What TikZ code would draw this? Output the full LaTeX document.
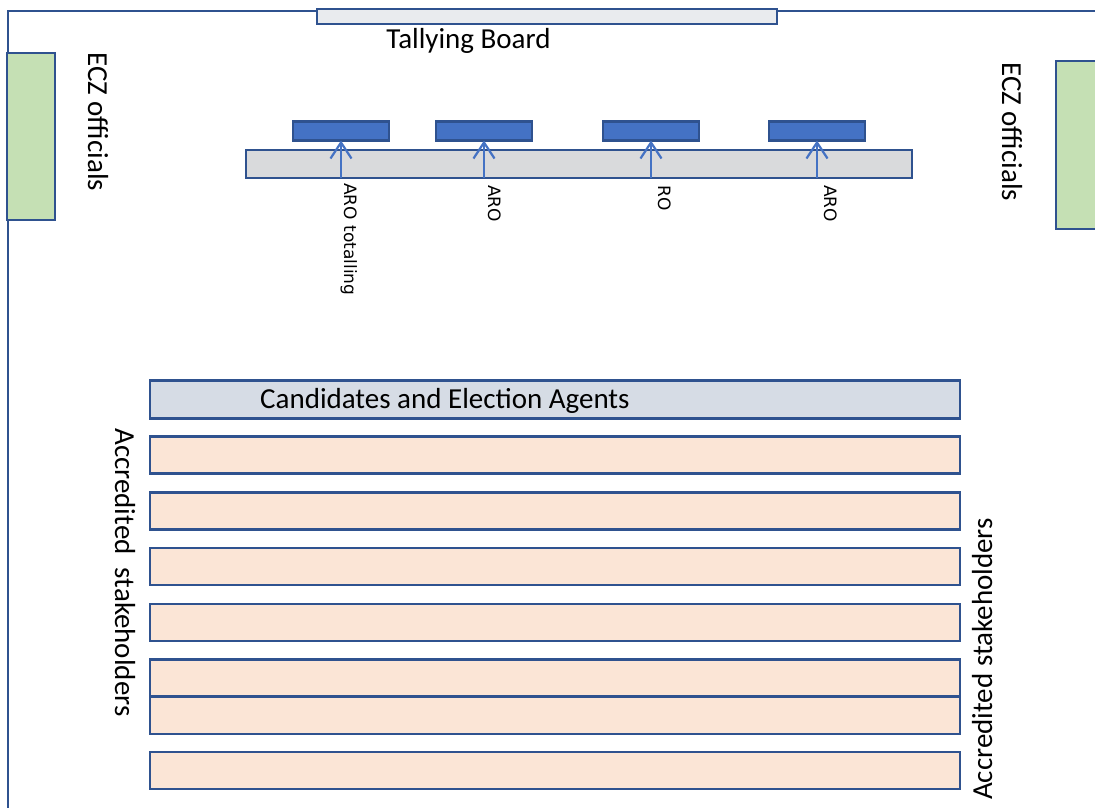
\documentclass[tikz,border=0pt]{standalone}
\usepackage{fontspec}
\setmainfont{Carlito}
\newfontfamily\lblfont{DejaVu Sans}
\usetikzlibrary{arrows.meta}
\definecolor{bord}{HTML}{2F528F}
\definecolor{arrowblue}{HTML}{4472C4}
\definecolor{greenfill}{HTML}{C5E0B4}
\definecolor{peach}{HTML}{FBE5D6}
\definecolor{candfill}{HTML}{D6DCE5}
\definecolor{barfill}{HTML}{D9DADC}
\definecolor{boardfill}{HTML}{E9EBEE}
\tikzset{
  box/.style={draw=bord, line width=2.2pt, inner sep=0pt, outer sep=0pt},
  bigtext/.style={font=\fontsize{29}{34}\selectfont, inner sep=0pt, text=black},
  smalltext/.style={font=\lblfont\fontsize{17}{20}\selectfont, inner sep=0pt, text=black},
  uparrow/.style={draw=arrowblue, line width=2.2pt, -{Straight Barb[length=16pt,width=21pt,line width=2.2pt]}},
}
\begin{document}
\begin{tikzpicture}[x=1pt,y=-1pt]
\useasboundingbox (0,0) rectangle (1095,807);
% room outline
\draw[bord, line width=2.2pt] (8,812) -- (8,11) -- (1100,11);
% tallying board
\node[box, fill=boardfill, minimum width=460pt, minimum height=15pt] (board) at (547,16.5) {};
\node[bigtext, anchor=base] (boardlbl) at (468.5,48) {Tallying Board};
% ECZ officials
\node[box, fill=greenfill, minimum width=48pt, minimum height=167pt] (eczl) at (31,136.5) {};
\node[box, fill=greenfill, minimum width=52pt, minimum height=168pt] (eczr) at (1082,145) {};
\node[bigtext, rotate=-90, anchor=base west] (eczllbl) at (88,52) {ECZ officials};
\node[bigtext, rotate=-90, anchor=base west] (eczrlbl) at (1002,62) {ECZ officials};
% counting table
\node[box, fill=barfill, minimum width=666pt, minimum height=28pt] (bar) at (579,164) {};
\foreach \n/\cx in {b1/341, b2/484, b3/651, b4/817}{
  \node[box, fill=arrowblue, minimum width=96pt, minimum height=19pt] (\n) at (\cx,131) {};
  \draw[uparrow] (\n.south |- bar.south) -- (\n.south);
}
\node[smalltext, rotate=-90, anchor=base west] (l1) at (344,183) {ARO totalling};
\node[smalltext, rotate=-90, anchor=base west] (l2) at (488,185) {ARO};
\node[smalltext, rotate=-90, anchor=base west] (l3) at (658,185) {RO};
\node[smalltext, rotate=-90, anchor=base west] (l4) at (824,185) {ARO};
% candidates
\node[box, fill=candfill, minimum width=810pt, minimum height=38pt] (cand) at (555,399.5) {};
\node[bigtext, anchor=base west] (candlbl) at (260,408) {Candidates and Election Agents};
% stakeholder rows
\foreach \n/\cy in {r1/455, r2/511, r3/566.5, r4/622.5, r5/678, r6/715.5, r7/770.5}{
  \node[box, fill=peach, minimum width=810pt, minimum height=37pt] (\n) at (555,\cy) {};
}
\node[bigtext, rotate=-90, anchor=base west] (accl) at (115,428) {Accredited\ \ stakeholders};
\node[bigtext, rotate=90, anchor=base west] (accr) at (992,800) {Accredited stakeholders};
\end{tikzpicture}
\end{document}
